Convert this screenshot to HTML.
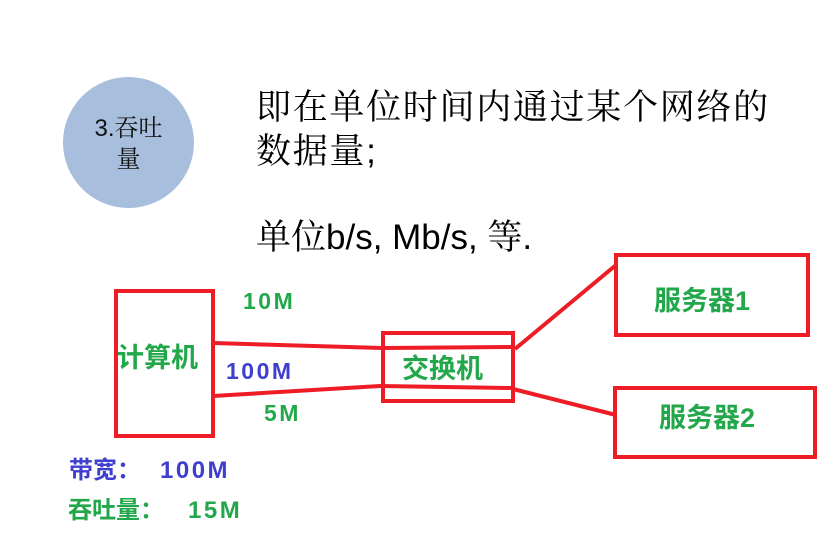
<!DOCTYPE html>
<html><head><meta charset="utf-8"><style>
html,body{margin:0;padding:0;background:#fff;}
body{width:834px;height:537px;position:relative;overflow:hidden;font-family:"Liberation Sans","Noto Sans CJK SC",sans-serif;}
.t{position:absolute;white-space:nowrap;line-height:1;}
.g{color:#22a84a;font-weight:bold;}
.b{color:#3f3fcf;font-weight:bold;}
.n{letter-spacing:2.5px;font-size:23px;}
.c{display:inline-block;}
</style></head><body>
<div style="position:absolute;left:63px;top:77px;width:131px;height:131px;border-radius:50%;background:#a7bfdd;"></div>
<div class="t" style="left:85px;top:113px;width:87px;text-align:center;font-size:24px;line-height:31px;color:#111;font-family:'Liberation Sans','Noto Serif CJK SC',sans-serif;">3.吞吐<br>量</div>
<div class="t" style="left:256px;top:86px;font-size:35px;line-height:44px;letter-spacing:1.7px;color:#000;font-family:'Liberation Sans','Noto Serif CJK SC',serif;">即在单位时间内通过某个网络的<br>数据量;</div>
<div class="t" style="left:256px;top:218px;font-size:35px;line-height:40px;color:#000;font-family:'Liberation Sans','Noto Serif CJK SC',serif;">单位b/s, Mb/s, 等.</div>
<svg width="834" height="537" style="position:absolute;left:0;top:0" fill="none" stroke="#ee1c25" stroke-width="4">
<rect x="116" y="291" width="97" height="145"/>
<rect x="383" y="333" width="130" height="68"/>
<rect x="616" y="255" width="192" height="80"/>
<rect x="615" y="388" width="200" height="69"/>
<polyline points="213,343 384,348 513,347"/>
<polyline points="213,396 380,386 513,388"/>
<line x1="515" y1="349" x2="616" y2="265"/>
<line x1="513" y1="389" x2="616" y2="415"/>
</svg>
<div class="t g" style="left:117px;top:345px;font-size:27px;">计算机</div>
<div class="t g" style="left:402px;top:356px;font-size:27px;">交换机</div>
<div class="t g" style="left:654px;top:288px;font-size:27px;">服务器1</div>
<div class="t g" style="left:659px;top:405px;font-size:27px;">服务器2</div>
<div class="t g n" style="left:243px;top:290px;">10M</div>
<div class="t b n" style="left:226px;top:360px;">100M</div>
<div class="t g n" style="left:264px;top:402px;">5M</div>
<div class="t b" style="left:69px;top:459px;font-size:24px;">带宽<span class="c" style="width:43px">：</span><span class="n" style="font-size:24px">100M</span></div>
<div class="t g" style="left:68px;top:499px;font-size:24px;">吞吐量<span class="c" style="width:48px">：</span><span class="n" style="font-size:24px">15M</span></div>
</body></html>
